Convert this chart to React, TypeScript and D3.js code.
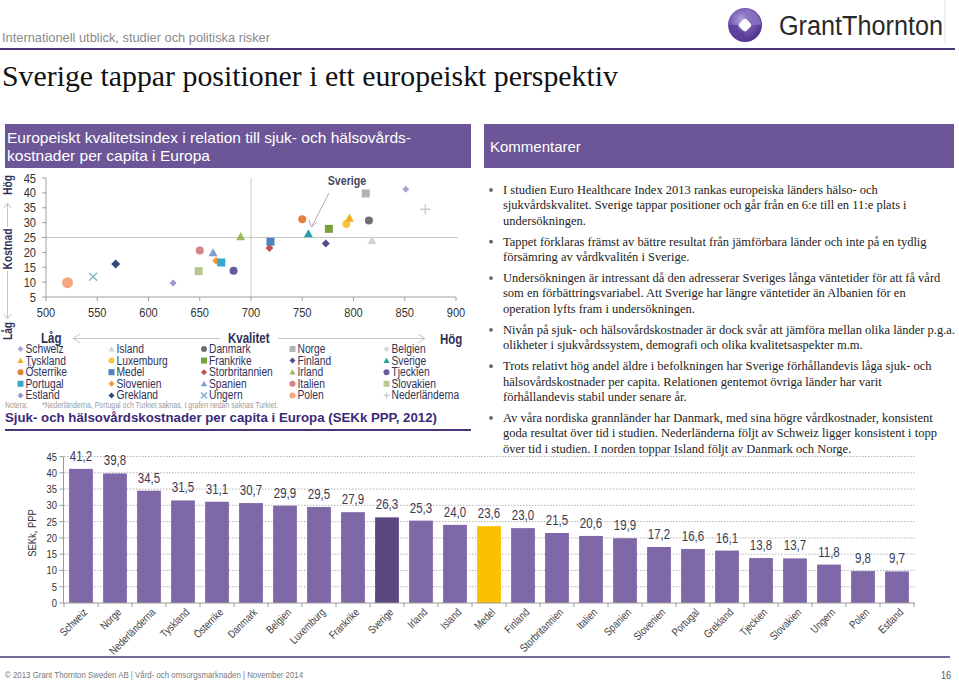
import React from 'react';
import * as d3 from 'd3';

// ---------- DATA ----------
const barCountries = ['Schweiz','Norge','Nederländerna','Tyskland','Österrike','Danmark','Belgien','Luxemburg','Frankrike','Sverige','Irland','Island','Medel','Finland','Storbritannien','Italien','Spanien','Slovenien','Portugal','Grekland','Tjeckien','Slovakien','Ungern','Polen','Estland'];
const barValues = [41.2,39.8,34.5,31.5,31.1,30.7,29.9,29.5,27.9,26.3,25.3,24.0,23.6,23.0,21.5,20.6,19.9,17.2,16.6,16.1,13.8,13.7,11.8,9.8,9.7];
const barTicks = [0,5,10,15,20,25,30,35,40,45];

const scatterCountries = ['Polen','Ungern','Grekland','Estland','Slovakien','Italien','Spanien','Slovenien','Portugal','Tjeckien','Irland','Storbritannien','Medel','Österrike','Sverige','Finland','Frankrike','Luxemburg','Tyskland','Norge','Danmark','Island','Schweiz','Nederländerna'];
const scatterQuality = [521,546,568,624,649,650,663,666,671,683,690,718,719,750,756,773,776,793,796,812,815,818,851,870];
const scatterCost = [9.8,11.8,16.1,9.7,13.7,20.6,19.9,17.2,16.6,13.8,25.3,21.5,23.6,31.1,26.3,23.0,27.9,29.5,31.5,39.8,30.7,24.0,41.2,34.5];
const scatterXTicks = [500,550,600,650,700,750,800,850,900];
const scatterYTicks = [5,10,15,20,25,30,35,40,45];

const legendColumns = [
  ['Schweiz','Tyskland','Österrike','Portugal','Estland'],
  ['Island','Luxemburg','Medel','Slovenien','Grekland'],
  ['Danmark','Frankrike','Storbritannien','Spanien','Ungern'],
  ['Norge','Finland','Irland','Italien','Polen'],
  ['Belgien','Sverige','Tjeckien','Slovakien','Nederländerna'],
];

const bullets = [
  ['I studien Euro Healthcare Index 2013 rankas europeiska länders hälso- och','sjukvårdskvalitet. Sverige tappar positioner och går från en 6:e till en 11:e plats i','undersökningen.'],
  ['Tappet förklaras främst av bättre resultat från jämförbara länder och inte på en tydlig','försämring av vårdkvalitén i Sverige.'],
  ['Undersökningen är intressant då den adresserar Sveriges långa väntetider för att få vård','som en förbättringsvariabel. Att Sverige har längre väntetider än Albanien för en','operation lyfts fram i undersökningen.'],
  ['Nivån på sjuk- och hälsovårdskostnader är dock svår att jämföra mellan olika länder p.g.a.','olikheter i sjukvårdssystem, demografi och olika kvalitetsaspekter m.m.'],
  ['Trots relativt hög andel äldre i befolkningen har Sverige förhållandevis låga sjuk- och','hälsovårdskostnader per capita. Relationen gentemot övriga länder har varit','förhållandevis stabil under senare år.'],
  ['Av våra nordiska grannländer har Danmark, med sina högre vårdkostnader, konsistent','goda resultat över tid i studien. Nederländerna följt av Schweiz ligger konsistent i topp','över tid i studien. I norden toppar Island följt av Danmark och Norge.'],
];

// ---------- STYLES ----------
type Shape = 'circle' | 'square' | 'diamond' | 'triangle' | 'x' | 'plus';
const markerStyle: Record<string, { shape: Shape; color: string; size: number }> = {
  Schweiz: { shape: 'diamond', color: '#aaa6d2', size: 7 },
  Tyskland: { shape: 'triangle', color: '#f2b01e', size: 9 },
  'Österrike': { shape: 'circle', color: '#e2813a', size: 8 },
  Portugal: { shape: 'square', color: '#36a8c9', size: 8 },
  Estland: { shape: 'diamond', color: '#9d98c3', size: 7 },
  Island: { shape: 'triangle', color: '#d2d2de', size: 9 },
  Luxemburg: { shape: 'circle', color: '#f4c641', size: 8 },
  Medel: { shape: 'square', color: '#4f81bd', size: 8 },
  Slovenien: { shape: 'diamond', color: '#f5992f', size: 8 },
  Grekland: { shape: 'diamond', color: '#2c4d7a', size: 9 },
  Danmark: { shape: 'circle', color: '#6f6f6f', size: 8 },
  Frankrike: { shape: 'square', color: '#77a13d', size: 8 },
  Storbritannien: { shape: 'diamond', color: '#c0504d', size: 8 },
  Spanien: { shape: 'triangle', color: '#7f9dd0', size: 9 },
  Ungern: { shape: 'x', color: '#8ab6cf', size: 8 },
  Norge: { shape: 'square', color: '#b3b3b3', size: 8 },
  Finland: { shape: 'diamond', color: '#584a8c', size: 8 },
  Irland: { shape: 'triangle', color: '#9bbb59', size: 9 },
  Italien: { shape: 'circle', color: '#d48488', size: 8 },
  Polen: { shape: 'circle', color: '#f6a77f', size: 11 },
  Belgien: { shape: 'diamond', color: '#d9d9e3', size: 7 },
  Sverige: { shape: 'triangle', color: '#25a0a6', size: 9 },
  Tjeckien: { shape: 'circle', color: '#6a5a9c', size: 8 },
  Slovakien: { shape: 'square', color: '#b6c98e', size: 8 },
  'Nederländerna': { shape: 'plus', color: '#c9c9d8', size: 10 },
};

const SANS = "'Liberation Sans', Arial, sans-serif";
const SERIF = "'Liberation Serif', 'Times New Roman', serif";
const PURPLE = '#6c5697';
const DARKPURPLE = '#4b3679';
const NAVYTEXT = '#2f3158';

// Narrow text: Liberation Sans compressed horizontally (Arial Narrow look-alike)
function NText({ x, y, size, fill, anchor = 'start', weight = 'normal', rotate = 0, sx = 0.82, children }:
  { x: number; y: number; size: number; fill: string; anchor?: string; weight?: string; rotate?: number; sx?: number; children: React.ReactNode }) {
  return (
    <text transform={`translate(${x},${y}) rotate(${rotate}) scale(${sx},1)`} textAnchor={anchor as any}
      fontFamily={SANS} fontSize={size} fontWeight={weight} fill={fill}>{children}</text>
  );
}

function Marker({ shape, color, size, x, y }: { shape: Shape; color: string; size: number; x: number; y: number }) {
  const h = size / 2;
  switch (shape) {
    case 'circle':
      return <circle cx={x} cy={y} r={h} fill={color} />;
    case 'square':
      return <rect x={x - h} y={y - h} width={size} height={size} fill={color} />;
    case 'diamond':
      return <path d={`M${x},${y - h}L${x + h},${y}L${x},${y + h}L${x - h},${y}Z`} fill={color} />;
    case 'triangle':
      return <path d={`M${x},${y - h}L${x + h},${y + h * 0.8}L${x - h},${y + h * 0.8}Z`} fill={color} />;
    case 'x':
      return <path d={`M${x - h},${y - h}L${x + h},${y + h}M${x - h},${y + h}L${x + h},${y - h}`} stroke={color} strokeWidth={1.5} />;
    case 'plus':
      return <path d={`M${x - h},${y}L${x + h},${y}M${x},${y - h}L${x},${y + h}`} stroke={color} strokeWidth={1.3} />;
  }
  return null;
}

function Scatter() {
  const x = d3.scaleLinear().domain([500, 900]).range([46, 456]);
  const y = d3.scaleLinear().domain([5, 45]).range([297, 178]);
  const arrowCol = '#c4c4cc';
  return (
    <g>
      <line x1={x(500)} x2={x(900) + 2} y1={y(25)} y2={y(25)} stroke="#c8c8c8" strokeWidth={1} />
      <line x1={x(700)} x2={x(700)} y1={y(45)} y2={y(5)} stroke="#c8c8c8" strokeWidth={1} />
      <line x1={x(500)} x2={x(500)} y1={y(45)} y2={y(5)} stroke="#a0a0a0" />
      <line x1={x(500)} x2={x(900)} y1={y(5)} y2={y(5)} stroke="#a0a0a0" />
      {scatterYTicks.map(t => (
        <g key={'sy' + t}>
          <line x1={x(500) - 4} x2={x(500)} y1={y(t)} y2={y(t)} stroke="#a0a0a0" />
          <NText x={36} y={y(t) + 4.5} anchor="end" size={13.5} fill="#333">{t}</NText>
        </g>
      ))}
      {scatterXTicks.map(t => (
        <g key={'sx' + t}>
          <line x1={x(t)} x2={x(t)} y1={y(5)} y2={y(5) + 4} stroke="#a0a0a0" />
          <NText x={x(t)} y={317} anchor="middle" size={13.5} fill="#333">{t}</NText>
        </g>
      ))}
      {scatterCountries.map((c, i) => {
        const s = markerStyle[c];
        return <Marker key={c} shape={s.shape} color={s.color} size={s.size} x={x(scatterQuality[i])} y={y(scatterCost[i])} />;
      })}
      <NText x={347} y={185} anchor="middle" size={13} weight="bold" fill="#464660">Sverige</NText>
      <line x1={329} y1={193} x2={311.5} y2={227} stroke="#b8a6c6" strokeWidth={1} />
      <polyline points="309,220 311.5,227 317,222" fill="none" stroke="#b8a6c6" strokeWidth={1} />
      <NText x={12} y={185} rotate={-90} anchor="middle" size={12.5} weight="bold" fill={NAVYTEXT}>Hög</NText>
      <NText x={12} y={249} rotate={-90} anchor="middle" size={12.5} weight="bold" fill={NAVYTEXT}>Kostnad</NText>
      <NText x={12} y={331} rotate={-90} anchor="middle" size={12.5} weight="bold" fill={NAVYTEXT}>Låg</NText>
      <line x1={7.5} x2={7.5} y1={203} y2={227} stroke={arrowCol} />
      <polyline points="4,208 7.5,203 11,208" fill="none" stroke={arrowCol} />
      <line x1={7.5} x2={7.5} y1={271} y2={319} stroke={arrowCol} />
      <polyline points="4,314 7.5,319 11,314" fill="none" stroke={arrowCol} />
      <NText x={41} y={343} size={14} weight="bold" fill={NAVYTEXT}>Låg</NText>
      <line x1={73} x2={220} y1={338.5} y2={338.5} stroke={arrowCol} />
      <polyline points="80,334 73,338.5 80,343" fill="none" stroke={arrowCol} />
      <NText x={228} y={343} size={14} weight="bold" fill={NAVYTEXT}>Kvalitet</NText>
      <line x1={278} x2={425} y1={338.5} y2={338.5} stroke={arrowCol} />
      <polyline points="418,334 425,338.5 418,343" fill="none" stroke={arrowCol} />
      <NText x={440} y={344} size={14} weight="bold" fill={NAVYTEXT}>Hög</NText>
    </g>
  );
}

function Legend() {
  const colX = [20.5, 111.5, 204, 292.5, 386.5];
  return (
    <g>
      {legendColumns.map((col, ci) =>
        col.map((name, ri) => {
          const s = markerStyle[name];
          const yy = 349 + ri * 11.6;
          return (
            <g key={name}>
              <Marker shape={s.shape} color={s.color} size={6} x={colX[ci]} y={yy} />
              <NText x={colX[ci] + 5} y={yy + 4} size={12.5} fill={NAVYTEXT}>{name}</NText>
            </g>
          );
        })
      )}
      <NText x={5} y={408} size={8.5} fill="#9a9a9a">Notera:</NText>
      <NText x={42} y={408} size={8.5} fill="#9a9a9a">*Nederländerna, Portugal och Turkiet saknas. I grafen nedan saknas Turkiet.</NText>
    </g>
  );
}

function Bars() {
  const x = d3.scaleBand<string>().domain(barCountries).range([64, 914]).paddingInner(0.3).paddingOuter(0.15);
  const y = d3.scaleLinear().domain([0, 45]).range([603, 456.5]);
  const color = (c: string) => (c === 'Sverige' ? '#5c467f' : c === 'Medel' ? '#fbc100' : '#7f68a7');
  const step = x.step();
  const gap = (step - x.bandwidth()) / 2;
  return (
    <g>
      {barTicks.filter(t => t > 0).map(t => (
        <line key={'g' + t} x1={64} x2={915} y1={y(t)} y2={y(t)} stroke="#b5b5b5" strokeDasharray="1.5,1.5" />
      ))}
      {barCountries.map((c, i) => (
        <rect key={c} x={x(c)} y={y(barValues[i])} width={x.bandwidth()} height={y(0) - y(barValues[i])} fill={color(c)} />
      ))}
      <line x1={63.5} x2={63.5} y1={y(45)} y2={y(0)} stroke="#9a9a9a" />
      <line x1={63.5} x2={915} y1={y(0)} y2={y(0)} stroke="#9a9a9a" />
      {barTicks.map(t => (
        <g key={'t' + t}>
          <line x1={59.5} x2={63.5} y1={y(t)} y2={y(t)} stroke="#9a9a9a" />
          <NText x={57} y={y(t) + 4} anchor="end" size={11.5} fill="#333">{t}</NText>
        </g>
      ))}
      {barCountries.map(c => (
        <line key={'xt' + c} x1={(x(c) as number) - gap} x2={(x(c) as number) - gap} y1={y(0)} y2={y(0) + 4} stroke="#9a9a9a" />
      ))}
      <line x1={914} x2={914} y1={y(0)} y2={y(0) + 4} stroke="#9a9a9a" />
      {barCountries.map((c, i) => (
        <NText key={'v' + c} x={(x(c) as number) + x.bandwidth() / 2} y={y(barValues[i]) - 8} anchor="middle" size={14} fill="#3a3a55">
          {d3.format('.1f')(barValues[i]).replace('.', ',')}
        </NText>
      ))}
      {barCountries.map(c => {
        const cx = (x(c) as number) + x.bandwidth() / 2;
        return (
          <NText key={'l' + c} x={cx + 7} y={613} rotate={-45} anchor="end" size={11} fill="#404040">{c}</NText>
        );
      })}
      <NText x={36} y={533} rotate={-90} anchor="middle" size={11.5} fill="#333">SEKk, PPP</NText>
    </g>
  );
}

function Logo() {
  return (
    <g>
      <defs>
        <radialGradient id="lg" cx="40%" cy="35%" r="70%">
          <stop offset="0%" stopColor="#b3a3dc" />
          <stop offset="55%" stopColor="#6f52ae" />
          <stop offset="100%" stopColor="#4a2f86" />
        </radialGradient>
      </defs>
      <circle cx={745} cy={25} r={17} fill="url(#lg)" />
      <path d="M745,9 A16,16 0 0 1 761,25 L752,25 A7,7 0 0 0 745,18 Z" fill="#8a72c6" opacity={0.8} />
      <path d="M745,41 A16,16 0 0 1 729,25 L738,25 A7,7 0 0 0 745,32 Z" fill="#5a3d98" opacity={0.8} />
      <rect x={740} y={20} width={10} height={10} rx={2} transform="rotate(45,745,25)" fill="#ffffff" />
      <text x={779} y={35} fontFamily={SANS} fontSize={27} fill="#2a2a2a" textLength={164} lengthAdjust="spacingAndGlyphs">GrantThornton</text>
      <line x1={945} x2={945} y1={0} y2={43} stroke="#e4e4e4" />
    </g>
  );
}

export default function App() {
  const lineH = 15.3;
  let yCursor = 194;
  const bulletEls: React.ReactNode[] = [];
  bullets.forEach((lines, bi) => {
    bulletEls.push(<circle key={'b' + bi} cx={491} cy={yCursor - 4} r={1.9} fill="#666" />);
    lines.forEach((ln, li) => {
      bulletEls.push(
        <text key={'t' + bi + '-' + li} x={503} y={yCursor} fontFamily={SERIF} fontSize={12.5} fill="#222">{ln}</text>
      );
      yCursor += lineH;
    });
    yCursor += 5.8;
  });

  return (
    <svg width={959} height={680} style={{ position: 'absolute', left: 0, top: 0, background: '#fff' }}>
      <rect width={959} height={680} fill="#fff" />
      <text x={2} y={42} fontFamily={SANS} fontSize={13.5} fill="#8a8a8a" textLength={268} lengthAdjust="spacingAndGlyphs">Internationell utblick, studier och politiska risker</text>
      <line x1={0} x2={955} y1={49} y2={49} stroke={DARKPURPLE} strokeWidth={2} />
      <text x={2} y={86} fontFamily={SERIF} fontSize={29} fill="#111" textLength={616} lengthAdjust="spacingAndGlyphs">Sverige tappar positioner i ett europeiskt perspektiv</text>
      <Logo />

      <rect x={5} y={124} width={466} height={44} fill={PURPLE} />
      <text x={7} y={143} fontFamily={SANS} fontSize={15} fill="#fff" textLength={404} lengthAdjust="spacingAndGlyphs">Europeiskt kvalitetsindex i relation till sjuk- och hälsovårds-</text>
      <text x={7} y={161} fontFamily={SANS} fontSize={15} fill="#fff" textLength={203} lengthAdjust="spacingAndGlyphs">kostnader per capita i Europa</text>

      <Scatter />
      <Legend />

      <text x={5} y={422} fontFamily={SANS} fontSize={13} fontWeight="bold" fill="#3b2a78" textLength={432} lengthAdjust="spacingAndGlyphs">Sjuk- och hälsovårdskostnader per capita i Europa (SEKk PPP, 2012)</text>
      <line x1={5} x2={471} y1={430} y2={430} stroke={DARKPURPLE} strokeWidth={2} />

      <Bars />

      <rect x={484} y={124} width={470} height={44} fill={PURPLE} />
      <text x={490} y={152} fontFamily={SANS} fontSize={15} fill="#fff">Kommentarer</text>
      {bulletEls}

      <line x1={0} x2={950} y1={657} y2={657} stroke={DARKPURPLE} strokeWidth={1.5} />
      <NText x={5} y={678} size={9.6} fill="#777">© 2013 Grant Thornton Sweden AB  |  Vård- och omsorgsmarknaden  |  November 2014</NText>
      <NText x={951} y={679} anchor="end" size={11} fill="#555">16</NText>
    </svg>
  );
}
